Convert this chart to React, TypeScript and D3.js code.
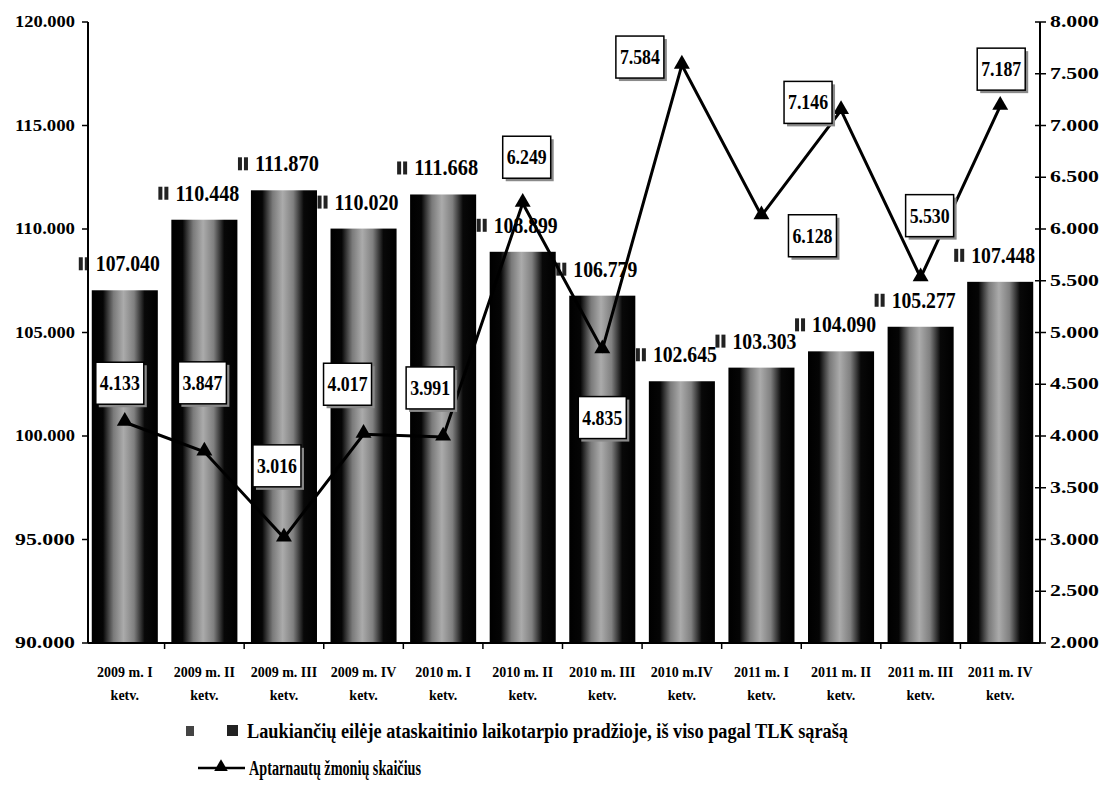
import React from "react";
import * as d3 from "d3";

const yearLabels = ["2009 m. I", "2009 m. II", "2009 m. III", "2009 m. IV", "2010 m. I", "2010 m. II", "2010 m. III", "2010 m.IV", "2011 m. I", "2011 m. II", "2011 m. III", "2011 m. IV"];
const quarterSuffix = "ketv.";
const waitingValues = [107040, 110448, 111870, 110020, 111668, 108899, 106779, 102645, 103303, 104090, 105277, 107448];
const servedValues = [4133, 3847, 3016, 4017, 3991, 6249, 4835, 7584, 6128, 7146, 5530, 7187];
const leftTicks = [90000, 95000, 100000, 105000, 110000, 115000, 120000];
const rightTicks = [2000, 2500, 3000, 3500, 4000, 4500, 5000, 5500, 6000, 6500, 7000, 7500, 8000];
const boxOffsets: [number, number][] = [[-5, -39], [-2, -69], [-7, -72], [-16, -50], [-13, -49], [4, -46], [0, 68], [-42, -8], [51, 20], [-33, -8], [9, -62], [1, -37]];
const legendBars = "Laukiančių eilėje ataskaitinio laikotarpio pradžioje, iš viso pagal TLK sąrašą";
const legendLine = "Aptarnautų žmonių skaičius";

const fmt = (v: number) => (v / 1000).toFixed(3);
const FONT = "'Liberation Serif', 'Times New Roman', serif";

export default function App() {
  const W = 1107, H = 787;
  const left = 88, right = 1040, top = 22, bottom = 643;
  const x = d3.scaleBand<number>().domain(d3.range(12)).range([85, right]).paddingInner(0.17).paddingOuter(0.085);
  const yL = d3.scaleLinear().domain([90000, 120000]).range([bottom, top]);
  const yR = d3.scaleLinear().domain([2000, 8000]).range([bottom, top]);
  const step = x.step();
  const cx = (i: number) => (x(i) as number) + x.bandwidth() / 2;
  const line = d3.line<number>().x((_, i) => cx(i)).y((d) => yR(d));
  const tri = d3.symbol().type(d3.symbolTriangle).size(110);
  const bandStart = (i: number) => 85 + i * ((right - 85) / 12);

  return (
    <svg width={W} height={H} style={{ position: "absolute", left: 0, top: 0, background: "#fff" }} fontFamily={FONT}>
      <defs>
        <linearGradient id="barGrad" x1="0" x2="1" y1="0" y2="0">
          <stop offset="0" stopColor="#000" />
          <stop offset="0.17" stopColor="#050505" />
          <stop offset="0.33" stopColor="#7a7a7a" />
          <stop offset="0.48" stopColor="#ababab" />
          <stop offset="0.64" stopColor="#808080" />
          <stop offset="0.8" stopColor="#080808" />
          <stop offset="1" stopColor="#000" />
        </linearGradient>
      </defs>
      <rect x={0} y={0} width={W} height={H} fill="#fff" />

      {/* bars */}
      {waitingValues.map((v, i) => (
        <rect key={"b" + i} x={x(i)} y={yL(v)} width={x.bandwidth()} height={bottom - yL(v)} fill="url(#barGrad)" />
      ))}

      {/* bar labels */}
      {waitingValues.map((v, i) => {
        const tx = cx(i) + 3;
        const by = yL(v) - 19;
        const sx = tx - 32;
        return (
          <g key={"bl" + i}>
            <rect x={sx - 17} y={by - 14} width={4} height={13} fill="#222" />
            <rect x={sx - 11} y={by - 14} width={4} height={13} fill="#222" />
            <text x={tx} y={by} textAnchor="middle" fontSize={23} fontWeight="bold" textLength={64} lengthAdjust="spacingAndGlyphs">{fmt(v)}</text>
          </g>
        );
      })}

      {/* axes */}
      <line x1={left} x2={left} y1={top} y2={bottom} stroke="#000" strokeWidth={2} />
      <line x1={right} x2={right} y1={top} y2={bottom} stroke="#000" strokeWidth={2} />
      <line x1={left} x2={right} y1={bottom} y2={bottom} stroke="#000" strokeWidth={2} />
      {leftTicks.map((t) => (
        <g key={"lt" + t}>
          <line x1={left - 6} x2={left} y1={yL(t)} y2={yL(t)} stroke="#000" strokeWidth={1.5} />
          <text x={75} y={yL(t) + 5} textAnchor="end" fontSize={16} fontWeight="bold" textLength={60} lengthAdjust="spacingAndGlyphs">{fmt(t)}</text>
        </g>
      ))}
      {rightTicks.map((t) => (
        <g key={"rt" + t}>
          <line x1={right - 5} x2={right + 6} y1={yR(t)} y2={yR(t)} stroke="#000" strokeWidth={1.5} />
          <text x={1050} y={yR(t) + 5} textAnchor="start" fontSize={16} fontWeight="bold" textLength={49} lengthAdjust="spacingAndGlyphs">{fmt(t)}</text>
        </g>
      ))}
      {d3.range(1, 12).map((i) => (
        <line key={"xt" + i} x1={bandStart(i)} x2={bandStart(i)} y1={bottom} y2={bottom + 6} stroke="#000" strokeWidth={1.5} />
      ))}
      {yearLabels.map((lab, i) => (
        <g key={"xl" + i}>
          <text x={cx(i)} y={677} textAnchor="middle" fontSize={14} fontWeight="bold">{lab}</text>
          <text x={cx(i)} y={700} textAnchor="middle" fontSize={14} fontWeight="bold">{quarterSuffix}</text>
        </g>
      ))}

      {/* line series */}
      <path d={line(servedValues) || ""} fill="none" stroke="#000" strokeWidth={3} strokeLinejoin="miter" />
      {servedValues.map((v, i) => (
        <path key={"m" + i} d={tri() || ""} transform={`translate(${cx(i)},${yR(v) - 1})`} fill="#000" />
      ))}

      {/* line labels */}
      {servedValues.map((v, i) => {
        const bx = cx(i) + boxOffsets[i][0];
        const byc = yR(v) + boxOffsets[i][1];
        const bw = 48, bh = 42;
        return (
          <g key={"ll" + i}>
            <rect x={bx - bw / 2 + 3} y={byc - bh / 2 + 3} width={bw} height={bh} fill="#8a8a8a" />
            <rect x={bx - bw / 2} y={byc - bh / 2} width={bw} height={bh} fill="#fff" stroke="#000" strokeWidth={1.5} />
            <text x={bx} y={byc + 7} textAnchor="middle" fontSize={21} fontWeight="bold" textLength={40} lengthAdjust="spacingAndGlyphs">{fmt(v)}</text>
          </g>
        );
      })}

      {/* legend */}
      <rect x={186} y={726} width={8} height={10} fill="#444" />
      <rect x={227} y={725} width={11} height={11} fill="#222" />
      <text x={247} y={738} fontSize={20} fontWeight="bold" textLength={601} lengthAdjust="spacingAndGlyphs">{legendBars}</text>
      <line x1={198} x2={245} y1={768} y2={768} stroke="#000" strokeWidth={2.5} />
      <path d={d3.symbol().type(d3.symbolTriangle).size(80)() || ""} transform="translate(221,767)" fill="#000" />
      <text x={249} y={775} fontSize={20} fontWeight="bold" textLength={172} lengthAdjust="spacingAndGlyphs">{legendLine}</text>
    </svg>
  );
}
